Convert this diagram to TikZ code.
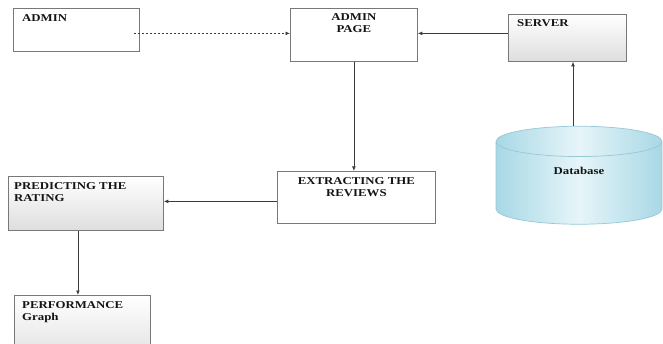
\documentclass[tikz,border=0pt]{standalone}
\usepackage{fontspec}
\setmainfont{Liberation Serif}
\usetikzlibrary{arrows.meta,shapes.geometric}
\definecolor{boxline}{RGB}{120,120,120}
\definecolor{arrowline}{RGB}{60,60,60}
\definecolor{dbedge}{RGB}{150,200,214}
\definecolor{dbdark}{RGB}{168,216,229}
\definecolor{dblight}{RGB}{230,245,249}
\newcommand{\wide}[1]{\scalebox{1.22}[1]{#1}}
\tikzset{
  box/.style={draw=boxline, line width=0.8pt, rectangle, anchor=north west, inner sep=0pt},
  gbox/.style={box, top color=white, bottom color=black!13},
  lbl/.style={font=\bfseries\fontsize{10.5}{12.5}\selectfont, text=black!92, inner sep=0pt},
  flow/.style={draw=arrowline, line width=0.75pt, -{Latex[length=4.5pt,width=3.8pt]}},
}
\begin{document}
\begin{tikzpicture}[x=1pt,y=-1pt]
  \clip (0,0) rectangle (663,344);
  \fill[white] (0,0) rectangle (663,344);

  % boxes
  \node[box, minimum width=126pt, minimum height=43pt] (admin) at (13,8) {};
  \node[box, minimum width=127pt, minimum height=53pt] (page) at (290,8) {};
  \node[gbox, minimum width=118pt, minimum height=47pt] (server) at (508,14) {};
  \node[box, minimum width=158pt, minimum height=52pt] (extract) at (277,171) {};
  \node[gbox, minimum width=155pt, minimum height=54pt] (predict) at (8,176) {};
  \node[gbox, minimum width=136pt, minimum height=70pt] (perf) at (14,295) {};

  % database
  \node[cylinder, shape border rotate=90, aspect=0.6, lbl,
        minimum height=98pt, minimum width=166pt, draw=dbedge, line width=0.7pt,
        left color=dbdark, right color=dbdark, middle color=dblight] (db) at (579,183) {\phantom{\wide{Database}}};
  \node[lbl] at ([yshift=-45pt]db.top) {\wide{Database}};

  % labels
  \node[lbl, anchor=north west] at ([xshift=9pt,yshift=-6pt]admin.north west) {\wide{ADMIN}};
  \node[lbl, anchor=north, align=center] at ([yshift=-5pt]page.north) {\wide{ADMIN}\\\wide{PAGE}};
  \node[lbl, anchor=north west] at ([xshift=9pt,yshift=-5pt]server.north west) {\wide{SERVER}};
  \node[lbl, anchor=north, align=center] at ([yshift=-6pt]extract.north) {\wide{EXTRACTING THE}\\\wide{REVIEWS}};
  \node[lbl, anchor=north west, align=left] at ([xshift=6pt,yshift=-6pt]predict.north west) {\wide{PREDICTING THE}\\\wide{RATING}};
  \node[lbl, anchor=north west, align=left] at ([xshift=8pt,yshift=-6pt]perf.north west) {\wide{PERFORMANCE}\\\wide{Graph}};

  % connectors
  \coordinate (adminout) at ([xshift=-6pt,yshift=-3.5pt]admin.east);
  \draw[flow, dashed, dash pattern=on 2.5pt off 1.5pt] (adminout) -- (adminout -| page.west);
  \draw[flow] ([yshift=4.5pt]server.west) -- ([yshift=4.5pt]server.west -| page.east);
  \draw[flow] (page.south) -- (page.south |- extract.north);
  \draw[flow] ([xshift=-6pt]db.top) -- ([xshift=-6pt]db.top |- server.south);
  \draw[flow] ([yshift=-4pt]extract.west) -- ([yshift=-4pt]extract.west -| predict.east);
  \draw[flow] ([xshift=-8pt]predict.south) -- ([xshift=-8pt]predict.south |- perf.north);
\end{tikzpicture}
\end{document}
